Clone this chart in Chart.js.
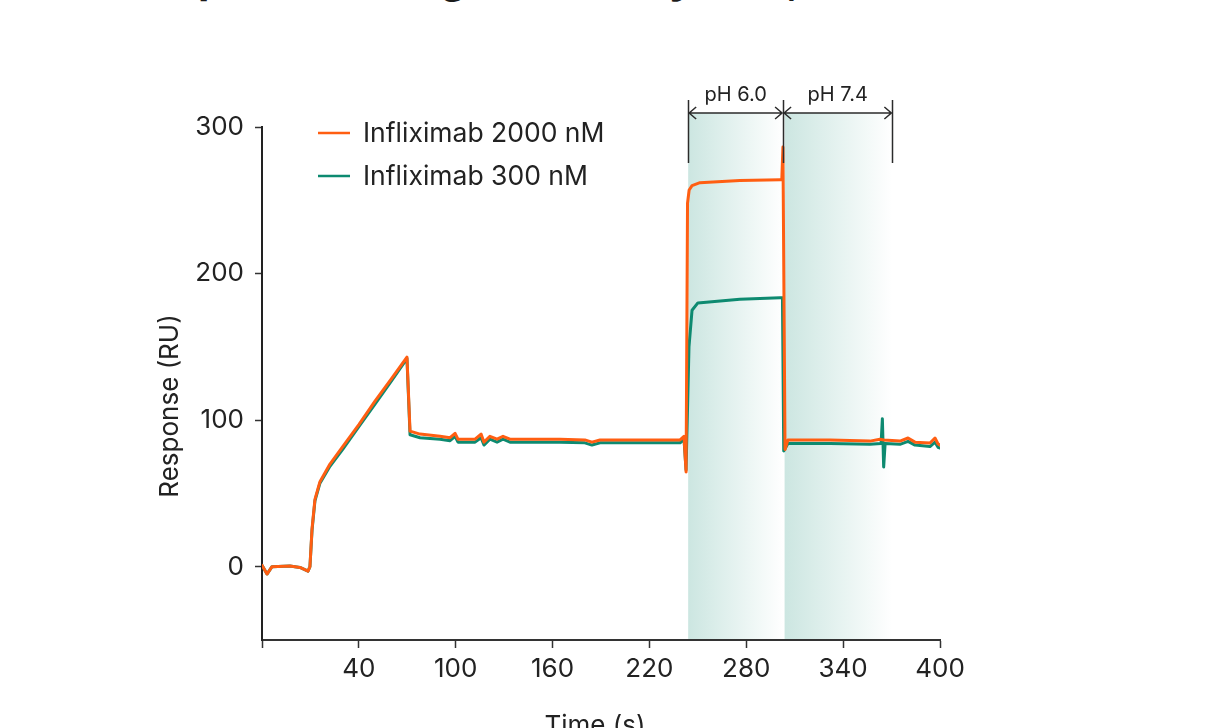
<!DOCTYPE html>
<html>
<head>
<meta charset="utf-8">
<script src="https://cdn.jsdelivr.net/npm/chart.js@4.4.1/dist/chart.umd.min.js"></script>
<style>
    html, body { margin: 0; padding: 0; background: #fff; overflow: hidden; }
    #wrap { position: relative; width: 1219px; height: 728px; }
    #heading {
        position: absolute; left: 198px; top: -43px; margin: 0;
        font: 700 42px Inter, "Liberation Sans", sans-serif; line-height: 42px;
        color: #1b1b1b; white-space: nowrap;
    }
    #sprChart { position: absolute; left: 0; top: 0; }
</style>
</head>
<body>
<div id="wrap">
    <h1 id="heading">pH switching method by SPR, Infliximab</h1>
    <canvas id="sprChart" width="1219" height="728"></canvas>
</div>
<script>
// Dữ liệu sensorgram (thời gian tính bằng giây, đáp ứng tính bằng RU)
const time2000 = [-20, -16.9, -13.8, -2.7, 3.5, 8.5, 9.7, 11, 12.8, 15.9, 22.1, 30, 40, 50, 60, 69.8,
    71.7, 77.9, 90.3, 96.5, 99.6, 101.4, 112, 115.7, 117.5, 121.2, 125.6, 129.3, 133.6, 164.6, 180,
    184.4, 189.4, 214, 239, 241.4, 242.7, 243.6, 244.6, 246.4, 251.3, 276, 300.9, 302, 302.7, 304, 305.8,
    331.9, 356.6, 362.8, 365.3, 375.2, 380.2, 384.5, 393.8, 396.9, 398.8, 400];
const resp2000 = [1, -5, 0, 0.5, -0.5, -3, 0, 26, 46, 58, 70, 82, 97, 113, 128, 143,
    92.5, 90.5, 89, 88, 91, 87, 87, 90.5, 85, 89, 87, 89, 87, 87, 86.5,
    85, 86.5, 86.5, 86.5, 89, 64.6, 248, 257, 260, 262, 263.5, 264, 264, 286.4, 80, 86.5,
    86.5, 85.7, 87, 86.5, 85.7, 87.8, 85, 84.4, 87.8, 83.7, 83];

const time300 = [-20, -16.9, -13.8, -2.7, 3.5, 8.5, 9.7, 11, 12.8, 15.9, 22.1, 30, 40, 50, 60, 69.8,
    71.7, 77.9, 90.3, 96.5, 99.6, 101.4, 112, 115.7, 117.5, 121.2, 125.6, 129.3, 133.6, 164.6, 180,
    184.4, 189.4, 214, 239, 241.4, 242.7, 244.5, 246.4, 250, 276, 300.9, 302.4, 303.2, 305.8,
    331.9, 356.6, 363.5, 364.3, 365.1, 366, 375.2, 380.2, 384.5, 393.8, 396.9, 398.8, 400];
const resp300 = [1, -5, 0, 0.5, -0.5, -3, 0, 25, 45, 57, 68.5, 80, 95.5, 111, 126.5, 142,
    90, 88, 87, 86, 89, 85, 85, 88, 83, 87, 85, 87, 85, 85, 84.5,
    83, 84.5, 84.5, 84.5, 87, 66, 150, 175, 180, 182.5, 183.5, 183.5, 79, 84,
    84, 83.5, 84, 101, 68, 84, 83.5, 85.5, 83, 82, 85, 81.5, 81];

const seriesLabels = ['Infliximab 2000 nM', 'Infliximab 300 nM'];
const seriesColors = ['#ff5e12', '#0d8a70'];

const timeTicks = [-20, 40, 100, 160, 220, 280, 340, 400];
const respTicks = [0, 100, 200, 300];

// Các pha pH (giây)
const phLabels = ['pH 6.0', 'pH 7.4'];
const phBounds = [244, 302.8, 370.5];

const FONT = 'Inter, "Liberation Sans", sans-serif';

// Vẽ vùng tô màu pH phía sau đường cong
const phShading = {
    id: 'phShading',
    beforeDatasetsDraw(chart) {
        const { ctx, chartArea, scales: { x } } = chart;
        const top = chartArea.top - 14;
        ctx.save();
        for (let i = 0; i < phLabels.length; i++) {
            const x0 = x.getPixelForValue(phBounds[i]) + (i > 0 ? 1.5 : 0);
            const x1 = x.getPixelForValue(phBounds[i + 1]);
            const g = ctx.createLinearGradient(x0, 0, x1, 0);
            g.addColorStop(0, '#cce6e1');
            g.addColorStop(1, '#ffffff');
            ctx.fillStyle = g;
            ctx.fillRect(x0, top, x1 - x0, chartArea.bottom - 1 - top);
        }
        ctx.restore();
    },
    afterDatasetsDraw(chart) {
        const { ctx, chartArea, scales: { x } } = chart;
        const lineY = chartArea.top - 14;
        ctx.save();
        ctx.strokeStyle = '#2b2b2b';
        ctx.lineWidth = 1.5;
        // Các vạch dọc
        phBounds.forEach(t => {
            const px = Math.round(x.getPixelForValue(t)) + 0.5;
            ctx.beginPath();
            ctx.moveTo(px, chartArea.top - 27);
            ctx.lineTo(px, chartArea.top + 36);
            ctx.stroke();
        });
        // Mũi tên hai đầu + nhãn
        ctx.fillStyle = '#222';
        ctx.font = '20px ' + FONT;
        ctx.textAlign = 'center';
        ctx.textBaseline = 'middle';
        for (let i = 0; i < phLabels.length; i++) {
            const x0 = x.getPixelForValue(phBounds[i]) + 1;
            const x1 = x.getPixelForValue(phBounds[i + 1]) - 1;
            ctx.beginPath();
            ctx.moveTo(x0, lineY);
            ctx.lineTo(x1, lineY);
            ctx.moveTo(x0 + 7, lineY - 6);
            ctx.lineTo(x0, lineY);
            ctx.lineTo(x0 + 7, lineY + 6);
            ctx.moveTo(x1 - 7, lineY - 6);
            ctx.lineTo(x1, lineY);
            ctx.lineTo(x1 - 7, lineY + 6);
            ctx.stroke();
            ctx.fillText(phLabels[i], (x0 + x1) / 2, chartArea.top - 32);
        }
        ctx.restore();
    }
};

// Chú thích và tiêu đề trục
const legendAndTitles = {
    id: 'legendAndTitles',
    afterDraw(chart) {
        const { ctx, chartArea } = chart;
        ctx.save();
        ctx.font = '26.5px ' + FONT;
        ctx.textBaseline = 'middle';
        ctx.fillStyle = '#222';
        chart.data.datasets.forEach((ds, i) => {
            const y = chartArea.top + 6 + i * 43;
            ctx.strokeStyle = ds.borderColor;
            ctx.lineWidth = 2.5;
            ctx.beginPath();
            ctx.moveTo(chartArea.left + 56, y);
            ctx.lineTo(chartArea.left + 88, y);
            ctx.stroke();
            ctx.textAlign = 'left';
            ctx.fillText(ds.label, chartArea.left + 101, y + 1);
        });
        // Trục x
        ctx.font = '26px ' + FONT;
        ctx.textAlign = 'center';
        ctx.textBaseline = 'alphabetic';
        ctx.fillText('Time (s)', 595, 734);
        // Trục y
        ctx.translate(170, 406);
        ctx.rotate(-Math.PI / 2);
        ctx.textBaseline = 'middle';
        ctx.fillText('Response (RU)', 0, 0);
        ctx.restore();
    }
};

const ctx = document.getElementById('sprChart').getContext('2d');

new Chart(ctx, {
    type: 'line',
    data: {
        datasets: [{
            label: seriesLabels[0],
            data: time2000.map((t, i) => ({ x: t, y: resp2000[i] })),
            borderColor: seriesColors[0],
            backgroundColor: seriesColors[0]
        }, {
            label: seriesLabels[1],
            data: time300.map((t, i) => ({ x: t, y: resp300[i] })),
            borderColor: seriesColors[1],
            backgroundColor: seriesColors[1]
        }]
    },
    options: {
        responsive: false,
        animation: false,
        layout: { padding: { left: 0, top: 127, right: 279, bottom: 0 } },
        elements: {
            point: { radius: 0 },
            line: { borderWidth: 3, tension: 0, borderJoinStyle: 'round', borderCapStyle: 'round' }
        },
        plugins: {
            legend: { display: false },
            tooltip: { enabled: false }
        },
        scales: {
            x: {
                type: 'linear',
                min: -20,
                max: 400,
                afterBuildTicks: s => { s.ticks = timeTicks.map(v => ({ value: v })); },
                afterFit: s => { s.height = 88; },
                grid: { display: true, drawOnChartArea: false, drawTicks: true, tickLength: 8, tickColor: '#333', tickWidth: 1.5 },
                border: { color: '#333', width: 2 },
                ticks: {
                    autoSkip: false, maxRotation: 0, padding: 6, color: '#222',
                    font: { size: 26, family: FONT },
                    callback: v => (v === -20 ? '' : v)
                }
            },
            y: {
                min: -50,
                max: 300,
                afterBuildTicks: s => { s.ticks = respTicks.map(v => ({ value: v })); },
                afterFit: s => { s.width = 262; },
                grid: { display: true, drawOnChartArea: false, drawTicks: true, tickLength: 7, tickColor: '#333', tickWidth: 1.5 },
                border: { color: '#222', width: 2 },
                ticks: {
                    padding: 11, color: '#222',
                    font: { size: 26, family: FONT }
                }
            }
        }
    },
    plugins: [phShading, legendAndTitles]
});
</script>
</body>
</html>
